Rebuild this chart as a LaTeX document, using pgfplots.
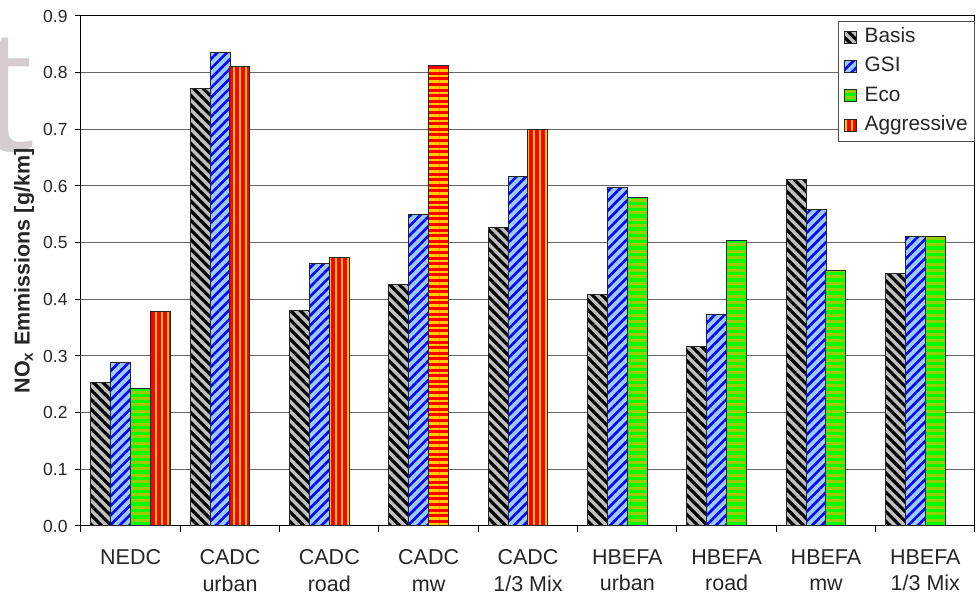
\documentclass[border=0pt]{standalone}
\usepackage{fontspec}
\setmainfont{Liberation Sans}
\newfontfamily\wmfont{Liberation Serif}
\usepackage{pgfplots}
\pgfplotsset{compat=1.18}
\usepackage{pgfplotstable}
\usetikzlibrary{patterns.meta}

\definecolor{basisfill}{HTML}{C0C0C0}
\definecolor{gsifill}{HTML}{99CCFF}
\definecolor{gsiline}{HTML}{0000FF}
\definecolor{ecofill}{HTML}{00FF00}
\definecolor{ecoline}{HTML}{99CC00}
\definecolor{aggfill}{HTML}{FF0000}
\definecolor{aggline}{HTML}{FFCC00}
\definecolor{gridcol}{HTML}{666666}
\definecolor{wmark}{HTML}{D6CECE}

% bar centres: cycle index + slot offset (-0.3, -0.1, 0.1, 0.3)
\pgfplotstableread{
x y
-0.3 0.253
0.7 0.772
1.7 0.381
2.7 0.427
3.7 0.527
4.7 0.408
5.7 0.316
6.7 0.612
7.7 0.445
}\basis
\pgfplotstableread{
x y
-0.1 0.289
0.9 0.836
1.9 0.464
2.9 0.549
3.9 0.616
4.9 0.598
5.9 0.373
6.9 0.558
7.9 0.510
}\gsi
\pgfplotstableread{
x y
0.1 0.242
5.1 0.579
6.1 0.503
7.1 0.451
8.1 0.511
}\eco
\pgfplotstableread{
x y
0.3 0.378
1.1 0.810
2.1 0.474
4.1 0.700
}\aggr
\pgfplotstableread{
x y
3.1 0.813
}\aggrmw

\pgfplotsset{
  barbase/.style={ybar, bar width=10pt, bar shift=0pt, draw=black!85, line width=0.5pt,
    legend image code/.code={\draw[##1, line width=0.5pt] (0pt,-3pt) rectangle (6pt,3pt);}},
  basisbar/.style={barbase, preaction={fill=basisfill},
    pattern={Lines[angle=-45,distance=3.4pt,line width=1.6pt]}, pattern color=black},
  gsibar/.style={barbase, preaction={fill=gsifill},
    pattern={Lines[angle=45,distance=3.4pt,line width=1.3pt]}, pattern color=gsiline},
  ecobar/.style={barbase, preaction={fill=ecofill},
    pattern={Lines[angle=0,distance=3.2pt,line width=1.5pt]}, pattern color=ecoline},
  aggbar/.style={barbase, preaction={fill=aggfill},
    pattern={Lines[angle=90,distance=3pt,line width=1.4pt]}, pattern color=aggline},
  aggbarh/.style={barbase, preaction={fill=aggfill},
    pattern={Lines[angle=0,distance=2.8pt,line width=1.3pt]}, pattern color=aggline},
}

\begin{document}
\begin{tikzpicture}
\begin{scope}
  \clip (-40.5pt,-35.5pt) rectangle (447.5pt,263pt);
  \node[anchor=base west, inner sep=0pt, text=wmark, font=\wmfont\fontsize{100}{100}\selectfont]
    at (-51.5pt,187.5pt) {t};
\end{scope}
\begin{axis}[
  at={(0pt,0pt)}, anchor=south west,
  scale only axis, width=447pt, height=255pt,
  xmin=-0.5, xmax=8.5, ymin=0, ymax=0.9,
  axis line style={black, line width=0.5pt},
  x tick label as interval,
  xtick={-0.5,0.5,1.5,2.5,3.5,4.5,5.5,6.5,7.5,8.5},
  xticklabels={NEDC,{CADC\\urban},{CADC\\road},{CADC\\mw},{CADC\\1/3 Mix},
    {HBEFA\\urban},{HBEFA\\road},{HBEFA\\mw},{HBEFA\\1/3 Mix}},
  xticklabel style={align=center, font=\fontsize{10.75}{13.35}\selectfont, text=black!85,
    yshift=-5pt},
  ytick={0,0.1,...,0.9},
  yticklabel style={font=\fontsize{8.75}{10}\selectfont, text=black!85,
    /pgf/number format/.cd, fixed, fixed zerofill, precision=1},
  /pgf/number format/assume math mode=true,
  xtick pos=bottom, ytick pos=left,
  tick align=outside, major tick length=3.2pt,
  tick style={black, line width=0.5pt},
  ymajorgrids, grid style={gridcol, line width=0.5pt},
  ylabel={\bfseries NO\textsubscript{x} Emmissions [g/km]},
  every axis y label/.style={at={(rel axis cs:0,0.5)}, rotate=90, anchor=center,
    yshift=28.5pt, font=\fontsize{10.75}{12}\selectfont, text=black!85},
  legend style={at={(rel axis cs:1,0.99)}, anchor=north east, draw=black!70, fill=white,
    font=\fontsize{10.4}{12}\selectfont, text=black!85, inner xsep=2.5pt, inner ysep=2pt,
    row sep=3pt, nodes={inner sep=1pt, text height=7.5pt, text depth=2.2pt},
    /tikz/every odd column/.append style={column sep=3pt}},
  legend cell align=left,
]
\addplot[basisbar] table[x=x,y=y] {\basis};
\addlegendentry{Basis}
\addplot[gsibar] table[x=x,y=y] {\gsi};
\addlegendentry{GSI}
\addplot[ecobar] table[x=x,y=y] {\eco};
\addlegendentry{Eco}
\addplot[aggbar] table[x=x,y=y] {\aggr};
\addlegendentry{Aggressive}
\addplot[aggbarh, forget plot] table[x=x,y=y] {\aggrmw};
\end{axis}
\pgfresetboundingbox
\useasboundingbox (-40.5pt,-35.5pt) rectangle (447.5pt,263pt);
\end{tikzpicture}
\end{document}
